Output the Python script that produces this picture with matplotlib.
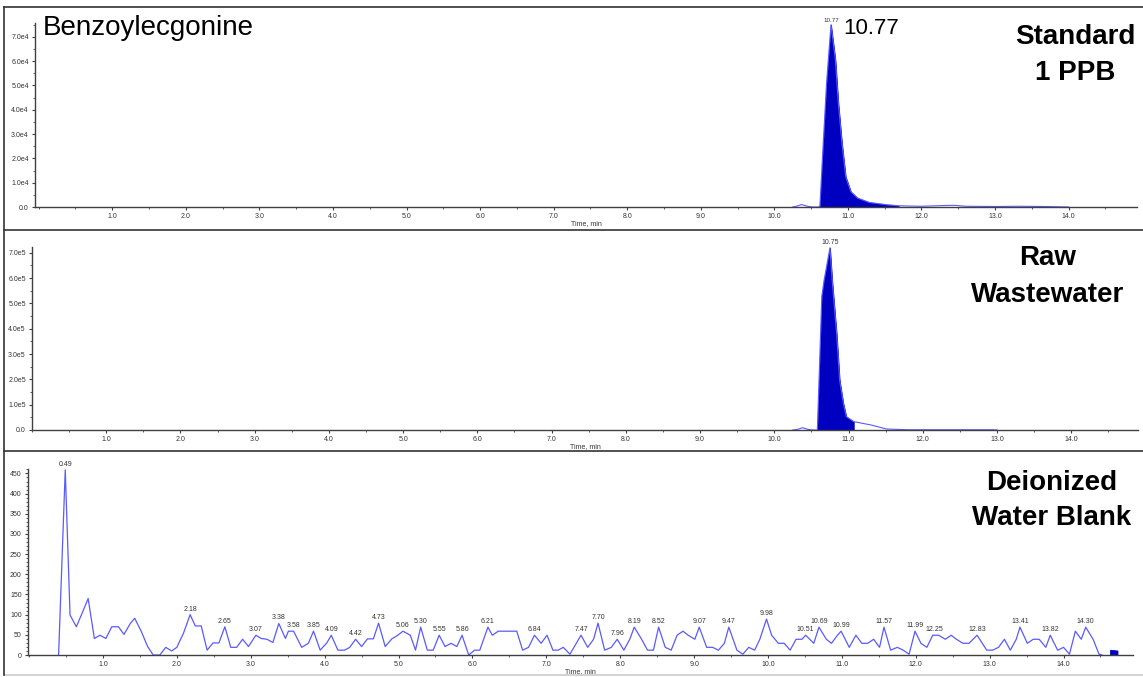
import numpy as np
import matplotlib
matplotlib.use("Agg")
import matplotlib.pyplot as plt
from matplotlib.ticker import MultipleLocator, FuncFormatter
from matplotlib.lines import Line2D

plt.rcParams['font.family'] = ['Liberation Sans', 'DejaVu Sans']

W, H = 1143, 677

# Standard 1 PPB trace (time in min, intensity in cps)
std_time = [10.25, 10.30, 10.37, 10.45, 10.52, 10.60, 10.62, 10.66, 10.71, 10.75, 10.77,
            10.83, 10.87, 10.92, 10.97, 11.04, 11.13, 11.29, 11.51, 11.69, 12.00, 12.30,
            12.45, 12.60, 13.00, 13.30, 13.70, 14.00]
std_signal = [0, 300, 1000, 300, 0, 0, 500, 23500, 51000, 67000, 75000,
              60500, 42700, 26000, 12500, 6300, 3700, 1900, 1000, 500, 300, 600,
              700, 300, 200, 300, 200, 0]
std_window = (10.61, 11.70)
std_peak = 10.77

# Raw wastewater trace
raw_time = [10.25, 10.32, 10.38, 10.46, 10.52, 10.58, 10.61, 10.64, 10.67, 10.75, 10.78,
            10.84, 10.88, 10.93, 10.97, 11.07, 11.30, 11.51, 11.80, 12.50, 12.95, 13.00]
raw_signal = [0, 3000, 9000, 2000, 0, 0, 260000, 527000, 590000, 720000, 590000,
              380000, 198000, 105000, 53000, 33000, 20000, 4000, 1000, 1000, 1000, 0]
raw_window = (10.58, 11.07)
raw_peak = 10.75

# Deionized water blank trace
blank_time = [0.40, 0.49, 0.555, 0.64, 0.735, 0.80, 0.884, 0.96, 1.04, 1.12, 1.21, 1.285,
              1.37, 1.43, 1.52, 1.605, 1.68, 1.77, 1.85, 1.93, 2.00, 2.09, 2.18, 2.25,
              2.33, 2.41, 2.49, 2.57, 2.65, 2.73, 2.81, 2.89, 2.97, 3.07, 3.14, 3.22,
              3.30, 3.38, 3.47, 3.51, 3.58, 3.69, 3.78, 3.85, 3.94, 4.03, 4.09, 4.18,
              4.27, 4.34, 4.42, 4.50, 4.58, 4.66, 4.73, 4.82, 4.91, 4.99, 5.06, 5.16,
              5.23, 5.30, 5.39, 5.47, 5.55, 5.63, 5.71, 5.79, 5.86, 5.95, 6.03, 6.10,
              6.21, 6.27, 6.35, 6.44, 6.52, 6.60, 6.68, 6.76, 6.84, 6.93, 7.01, 7.09,
              7.16, 7.23, 7.32, 7.47, 7.56, 7.64, 7.70, 7.79, 7.88, 7.96, 8.05, 8.13,
              8.19, 8.29, 8.37, 8.45, 8.52, 8.61, 8.69, 8.77, 8.85, 8.92, 9.01, 9.07,
              9.17, 9.25, 9.33, 9.41, 9.47, 9.58, 9.66, 9.74, 9.82, 9.89, 9.98, 10.05,
              10.14, 10.22, 10.30, 10.38, 10.46, 10.51, 10.62, 10.69, 10.79, 10.86, 10.94, 10.99,
              11.10, 11.19, 11.27, 11.35, 11.43, 11.51, 11.57, 11.66, 11.75, 11.83, 11.91, 11.99,
              12.07, 12.15, 12.23, 12.31, 12.40, 12.48, 12.55, 12.64, 12.72, 12.83, 12.96, 13.04,
              13.12, 13.20, 13.28, 13.36, 13.41, 13.51, 13.59, 13.67, 13.76, 13.82, 13.92, 14.00,
              14.08, 14.16, 14.24, 14.30, 14.40, 14.48, 14.52]
blank_signal = [0, 459, 99, 70, 111, 140, 41, 49, 41, 70, 70, 51,
                78, 91, 58, 21, 0, 0, 19, 10, 19, 54, 100, 72,
                72, 12, 30, 30, 70, 19, 19, 39, 21, 49, 41, 39,
                31, 78, 41, 59, 59, 19, 29, 59, 12, 30, 49, 12,
                12, 19, 39, 21, 40, 40, 79, 21, 40, 49, 59, 49,
                12, 69, 12, 12, 49, 21, 29, 21, 49, 0, 12, 12,
                69, 49, 59, 59, 59, 59, 12, 19, 49, 29, 49, 12,
                12, 19, 2, 49, 19, 39, 79, 12, 19, 39, 12, 39,
                69, 39, 12, 12, 69, 19, 12, 49, 59, 49, 39, 69,
                19, 19, 12, 29, 69, 12, 2, 19, 12, 39, 89, 49,
                29, 29, 12, 39, 39, 49, 29, 69, 39, 29, 49, 59,
                19, 49, 29, 29, 39, 19, 69, 12, 19, 12, 2, 59,
                29, 19, 49, 49, 39, 49, 39, 29, 29, 49, 12, 12,
                19, 39, 12, 39, 69, 29, 39, 39, 19, 49, 12, 19,
                2, 59, 39, 69, 39, 2, 0]
blank_labels = [0.49, 2.18, 2.65, 3.07, 3.38, 3.58, 3.85, 4.09, 4.42, 4.73, 5.06, 5.30,
                5.55, 5.86, 6.21, 6.84, 7.47, 7.70, 7.96, 8.19, 8.52, 9.07, 9.47, 9.98,
                10.51, 10.69, 10.99, 11.57, 11.99, 12.25, 12.83, 13.41, 13.82, 14.30]
blank_fill_time = [14.63, 14.73]
blank_fill_signal = [13, 11]

LINE = '#5a5aff'
FILL = '#0000c0'
AXC = '#404040'


def px(x, y):
    return x / W, 1 - y / H


def style_axis(ax, xlim, ylim, ystep, yminor, yfmt):
    ax.set_xlim(*xlim)
    ax.set_ylim(*ylim)
    for s in ['top', 'right']:
        ax.spines[s].set_visible(False)
    for s in ['left', 'bottom']:
        ax.spines[s].set_color(AXC)
        ax.spines[s].set_linewidth(1.0)
    ax.set_xticks(np.arange(1, 15))
    ax.xaxis.set_minor_locator(MultipleLocator(0.5))
    ax.xaxis.set_major_formatter(FuncFormatter(lambda v, p: f"{v:.1f}"))
    ax.yaxis.set_major_locator(MultipleLocator(ystep))
    ax.yaxis.set_minor_locator(MultipleLocator(yminor))
    ax.yaxis.set_major_formatter(FuncFormatter(yfmt))
    ax.tick_params(which='both', direction='out', colors=AXC, labelsize=5, labelcolor='#333333')
    ax.tick_params(which='major', length=2.5, width=0.8, pad=2)
    ax.tick_params(which='minor', length=1.5, width=0.6)
    ax.set_xlabel('Time, min', fontsize=5, color='#333333', labelpad=0)


def sci_fmt(exp):
    def f(v, p):
        if v == 0:
            return '0.0'
        return f"{v / 10 ** exp:.1f}e{exp}"
    return f


fig = plt.figure(figsize=(W / 100, H / 100), dpi=100)

# panel 1: standard
l, b = px(35, 207)
ax1 = fig.add_axes([l, b, 1102 / W, 184 / H])
t = np.array(std_time)
s = np.array(std_signal)
ax1.plot(t, s, color=LINE, lw=0.8)
m = (t >= std_window[0]) & (t <= std_window[1])
ax1.fill_between(t[m], 0, s[m], color=FILL, lw=0.6, edgecolor=FILL)
style_axis(ax1, (-0.05, 14.93), (0, 75700), 10000, 5000, sci_fmt(4))
ax1.annotate(f"{std_peak:.2f}", (std_peak, max(std_signal)), xytext=(0, 1.5),
             textcoords='offset points', ha='center', va='bottom', fontsize=4.5, color='#333333')

# panel 2: raw wastewater
l, b = px(32, 430)
ax2 = fig.add_axes([l, b, 1106 / W, 183 / H])
t = np.array(raw_time)
s = np.array(raw_signal)
ax2.plot(t, s, color=LINE, lw=0.8)
m = (t >= raw_window[0]) & (t <= raw_window[1])
ax2.fill_between(t[m], 0, s[m], color=FILL, lw=0.6, edgecolor=FILL)
style_axis(ax2, (0, 14.9), (0, 723000), 100000, 50000, sci_fmt(5))
ax2.annotate(f"{raw_peak:.2f}", (raw_peak, max(raw_signal)), xytext=(0, 1.5),
             textcoords='offset points', ha='center', va='bottom', fontsize=5, color='#333333')

# panel 3: blank
l, b = px(28, 655)
ax3 = fig.add_axes([l, b, 1105 / W, 186 / H])
t = np.array(blank_time)
s = np.array(blank_signal)
ax3.plot(t, s, color=LINE, lw=0.9)
ax3.fill_between(blank_fill_time, 0, blank_fill_signal, color=FILL, lw=0.6, edgecolor=FILL)
style_axis(ax3, (-0.014, 14.94), (0, 461), 50, 10, lambda v, p: f"{v:.0f}")
for lab in blank_labels:
    near = np.abs(t - lab) <= 0.06
    ax3.annotate(f"{lab:.2f}", (lab, s[near].max()), xytext=(0, 1.5),
                 textcoords='offset points', ha='center', va='bottom', fontsize=5, color='#333333')

# frame lines between panels
for y, c in [(7, '#333333'), (230, '#333333'), (451, '#333333'), (675, '#cccccc')]:
    fig.add_artist(Line2D([4 / W, 1], [1 - y / H] * 2, color=c, lw=1.2))
fig.add_artist(Line2D([4 / W] * 2, [1 - 7 / H, 1 - 675 / H], color='#333333', lw=1.2))

# big labels
fig.text(*px(43, 28), 'Benzoylecgonine', fontsize=20, va='center', ha='left')
fig.text(*px(843, 29), '10.77', fontsize=16, va='center', ha='left')
bold = dict(fontsize=20, fontweight='bold', ha='center', va='center')
fig.text(*px(1075, 37), 'Standard', **bold)
fig.text(*px(1075, 73), '1 PPB', **bold)
fig.text(*px(1048, 258), 'Raw', **bold)
fig.text(*px(1048, 295), 'Wastewater', **bold)
fig.text(*px(1052, 483), 'Deionized', **bold)
fig.text(*px(1052, 518), 'Water Blank', **bold)

fig.savefig('out.png', dpi=100)
